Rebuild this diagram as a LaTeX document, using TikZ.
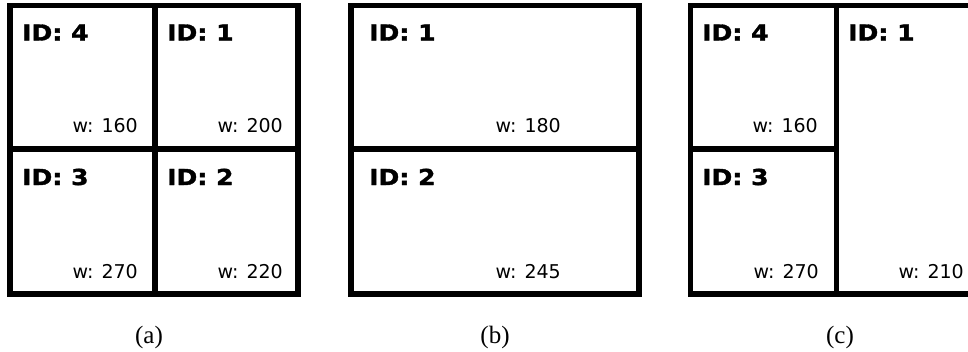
\documentclass[tikz,border=0pt]{standalone}
\usepackage{fontspec}
\setmainfont{Liberation Serif}
\newfontfamily\cellfont{DejaVu Sans}[BoldFeatures={FakeBold=1.5}]
\begin{document}
\begin{tikzpicture}[x=1pt,y=-1pt,
  cell/.style={draw=black, line width=5.5pt, inner sep=0pt, fill=white},
  idlab/.style={anchor=base west, inner sep=0pt, font=\cellfont\bfseries\fontsize{22}{22}\selectfont},
  wlab/.style={anchor=base east, inner sep=0pt, font=\cellfont\fontsize{19}{19}\selectfont},
  captext/.style={anchor=base, inner sep=0pt, font=\fontsize{25}{25}\selectfont}]
\useasboundingbox (0,0) rectangle (968,351);
\clip (0,0) rectangle (968,351);
\newcommand{\idtxt}[1]{\scalebox{1.14}[1]{ID: #1}}
% panel (a)
\node[cell, minimum width=145pt, minimum height=143.5pt] (a4) at (82.5,77.25) {};
\node[cell, minimum width=143pt, minimum height=143.5pt] (a1) at (226.5,77.25) {};
\node[cell, minimum width=145pt, minimum height=145pt] (a3) at (82.5,221.5) {};
\node[cell, minimum width=143pt, minimum height=145pt] (a2) at (226.5,221.5) {};
\node[idlab] (a4id) at (22,40.5) {\idtxt{4}};
\node[wlab] (a4w) at (138,132) {w: 160};
\node[idlab] (a1id) at (167,40.5) {\idtxt{1}};
\node[wlab] (a1w) at (283,132) {w: 200};
\node[idlab] (a3id) at (22,185) {\idtxt{3}};
\node[wlab] (a3w) at (138,278) {w: 270};
\node[idlab] (a2id) at (167,185) {\idtxt{2}};
\node[wlab] (a2w) at (283,278) {w: 220};
\node[captext] (capa) at (149,343) {(a)};
% panel (b)
\node[cell, minimum width=288pt, minimum height=143.5pt] (b1) at (495,77.25) {};
\node[cell, minimum width=288pt, minimum height=145pt] (b2) at (495,221.5) {};
\node[idlab] (b1id) at (369,40.5) {\idtxt{1}};
\node[wlab] (b1w) at (561,132) {w: 180};
\node[idlab] (b2id) at (369,185) {\idtxt{2}};
\node[wlab] (b2w) at (561,278) {w: 245};
\node[captext] (capb) at (495,343) {(b)};
% panel (c)
\node[cell, minimum width=146pt, minimum height=143.5pt] (c4) at (763.5,77.25) {};
\node[cell, minimum width=146pt, minimum height=145pt] (c3) at (763.5,221.5) {};
\node[cell, minimum width=144.5pt, minimum height=288.5pt] (c1) at (908.75,149.75) {};
\node[idlab] (c4id) at (702,40.5) {\idtxt{4}};
\node[wlab] (c4w) at (818,132) {w: 160};
\node[idlab] (c3id) at (702,185) {\idtxt{3}};
\node[wlab] (c3w) at (819,278) {w: 270};
\node[idlab] (c1id) at (848,40.5) {\idtxt{1}};
\node[wlab] (c1w) at (964,278) {w: 210};
\node[captext] (capc) at (840,343) {(c)};
\end{tikzpicture}
\end{document}
